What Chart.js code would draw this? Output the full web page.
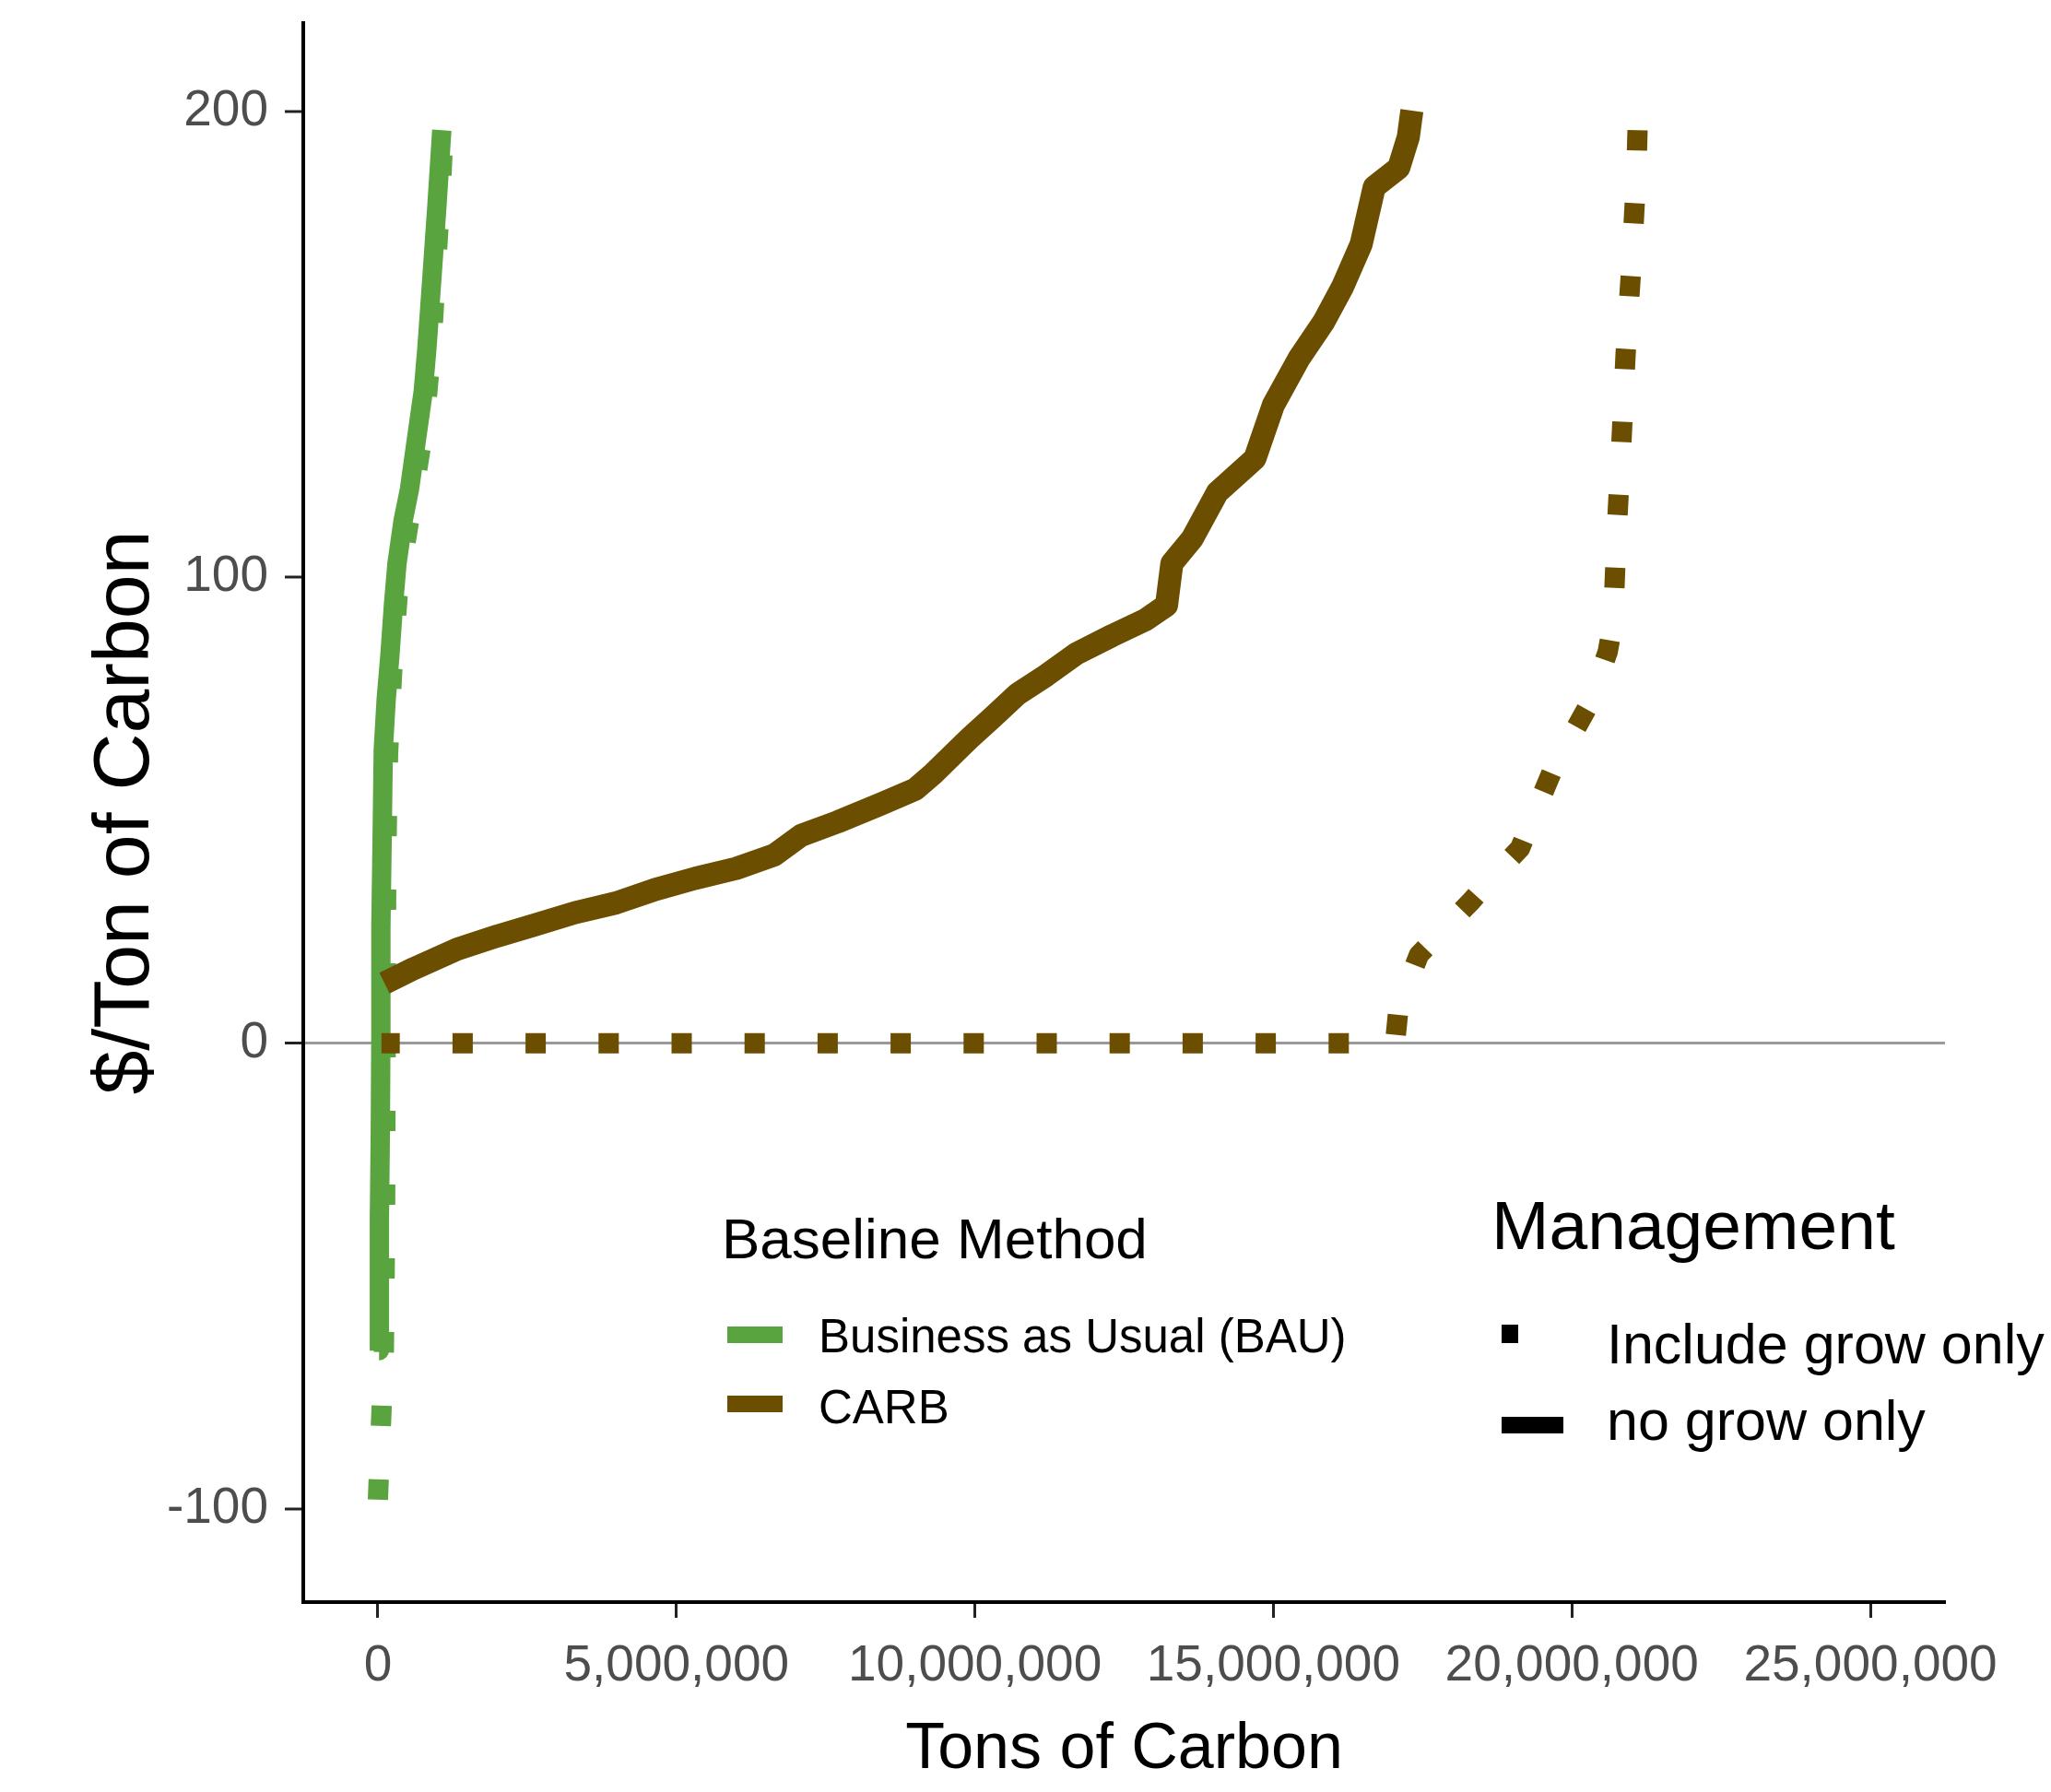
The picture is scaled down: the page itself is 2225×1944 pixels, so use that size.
<!DOCTYPE html>
<html>
<head>
<meta charset="utf-8">
<script src="https://cdn.jsdelivr.net/npm/chart.js@4"></script>
<style>
  html, body { margin: 0; padding: 0; background: #fff; }
  #cost-curve { display: block; }
</style>
</head>
<body>
<canvas id="cost-curve" width="2225" height="1944"></canvas>
<script>
// tick values
const xTicks = [0, 5000000, 10000000, 15000000, 20000000, 25000000];
const yTicks = [-100, 0, 100, 200];

// tons of carbon are in millions here, prices in $/ton
// BAU, no grow only (solid green)
const bauNoGrowTons  = [0.02, 0.02, 0.03, 0.04, 0.05, 0.05, 0.07, 0.09, 0.14, 0.20, 0.26, 0.32, 0.42, 0.53, 0.65, 0.76, 0.82, 0.87, 0.93, 0.99, 1.03, 1.07];
const bauNoGrowPrice = [-66, -50, -38, -20, 2, 25, 43, 63, 74, 83, 94, 103, 112, 119, 130, 140, 149, 158, 169, 180, 188, 196];

// BAU, include grow only (dotted green)
const bauGrowTons  = [0.00, 0.06, 0.10, 0.12, 0.13, 0.14, 0.17, 0.24, 0.33, 0.47, 0.62, 0.78, 0.90, 0.99, 1.06, 1.10];
const bauGrowPrice = [-98, -79, -66, -40, 0, 40, 62, 80, 96, 108, 120, 133, 150, 170, 185, 196];

// CARB, no grow only (solid brown)
const carbNoGrowTons  = [0.11, 0.6, 1.33, 2.0, 2.66, 3.3, 3.99, 4.65, 5.32, 6.0, 6.64, 7.09, 7.7, 8.42, 9.0, 9.3, 9.93, 10.3, 10.72, 11.2, 11.7, 12.3, 12.86, 13.21, 13.3, 13.64, 14.06, 14.69, 15.0, 15.43, 15.85, 16.16, 16.47, 16.69, 17.1, 17.26, 17.32];
const carbNoGrowPrice = [12.9, 16, 20.2, 23, 25.5, 28, 30.1, 33, 35.4, 37.5, 40.4, 44.6, 47.5, 51.3, 54.5, 57.8, 65.7, 70, 75, 79, 83.6, 87.5, 90.9, 94, 103, 108.3, 118.2, 125.5, 137, 147, 155, 162.4, 171.5, 183.8, 187.9, 194.5, 200.2];

// CARB, include grow only (dotted brown)
const carbGrowTons  = [0.06, 17.0, 17.05, 17.1, 17.44, 17.9, 18.3, 18.7, 19.13, 19.67, 20.3, 20.6, 20.69, 20.75, 20.83, 20.9, 21.0, 21.08, 21.1];
const carbGrowPrice = [0, 0, 1.6, 8, 19, 25, 30.3, 36, 41.8, 58.4, 73, 84, 90.3, 109.7, 129, 148, 167.5, 187, 196];

const baselineMethods = ['Business as Usual (BAU)', 'CARB'];
const managementTypes = ['Include grow only', 'no grow only'];

const FONT = "'Liberation Sans', Arial, Helvetica, sans-serif";
const GREEN = '#5aa440';
const BROWN = '#6b4e00';

function toPoints(tons, price) {
    return tons.map((t, i) => ({ x: t * 1000000, y: price[i] }));
}

function lineSet(label, points, color, width, dash) {
    return {
        label: label,
        data: points,
        borderColor: color,
        backgroundColor: color,
        borderWidth: width,
        borderDash: dash || [],
        borderCapStyle: 'butt',
        borderJoinStyle: 'round',
        pointRadius: 0,
        tension: 0,
        fill: false
    };
}

// two ggplot style legends, drawn on top of the canvas
const legendPlugin = {
    id: 'twoLegends',
    afterDraw(chart) {
        const ctx = chart.ctx;
        ctx.save();
        ctx.textAlign = 'left';
        ctx.textBaseline = 'alphabetic';

        ctx.fillStyle = '#000';
        ctx.font = '62px ' + FONT;
        ctx.fillText('Baseline Method', 783, 1365);

        ctx.font = '51px ' + FONT;
        const swatchY = [1448, 1523];
        const textY = [1467, 1544];
        [GREEN, BROWN].forEach((c, i) => {
            ctx.fillStyle = c;
            ctx.fillRect(789, swatchY[i] - 9, 60, 18);
            ctx.fillStyle = '#000';
            ctx.fillText(baselineMethods[i], 888, textY[i]);
        });

        ctx.font = '75px ' + FONT;
        ctx.fillText('Management', 1618, 1355);

        ctx.font = '61px ' + FONT;
        ctx.fillRect(1629, 1437, 18, 20);
        ctx.fillText(managementTypes[0], 1743, 1479);
        ctx.fillRect(1629, 1537, 67, 18);
        ctx.fillText(managementTypes[1], 1743, 1562);
        ctx.restore();
    }
};

new Chart(document.querySelector('#cost-curve').getContext('2d'), {
    type: 'line',
    data: {
        datasets: [
            // dotted CARB path walked from the top so a dot sits on the last point
            lineSet('CARB - Include grow only', toPoints(carbGrowTons, carbGrowPrice).reverse(), BROWN, 22, [22, 57.2]),
            lineSet('CARB - no grow only', toPoints(carbNoGrowTons, carbNoGrowPrice), BROWN, 25),
            lineSet('BAU - Include grow only', toPoints(bauGrowTons, bauGrowPrice), GREEN, 22, [22, 58]),
            lineSet('BAU - no grow only', toPoints(bauNoGrowTons, bauNoGrowPrice), GREEN, 21)
        ]
    },
    options: {
        responsive: false,
        animation: false,
        devicePixelRatio: 1,
        layout: { padding: { top: 25, right: 115, bottom: 0, left: 0 } },
        plugins: {
            legend: { display: false },
            tooltip: { enabled: false }
        },
        scales: {
            x: {
                type: 'linear',
                min: -1250000,
                max: 26250000,
                afterBuildTicks: axis => { axis.ticks = xTicks.map(v => ({ value: v })); },
                afterFit: axis => { axis.height = 206; axis.paddingLeft = 0; axis.paddingRight = 0; },
                border: { display: true, color: '#000', width: 4 },
                grid: {
                    drawOnChartArea: false,
                    drawTicks: true,
                    tickLength: 17,
                    tickWidth: 3,
                    tickColor: '#222'
                },
                ticks: {
                    autoSkip: false,
                    maxRotation: 0,
                    padding: 20,
                    color: '#4d4d4d',
                    font: { family: FONT, size: 55 },
                    callback: v => v.toLocaleString('en-US')
                },
                title: {
                    display: true,
                    text: 'Tons of Carbon',
                    color: '#000',
                    font: { family: FONT, size: 70 },
                    padding: { top: 0, bottom: 3 }
                }
            },
            y: {
                min: -120,
                max: 219,
                afterBuildTicks: axis => { axis.ticks = yTicks.map(v => ({ value: v })); },
                afterFit: axis => { axis.width = 329; axis.paddingTop = 0; axis.paddingBottom = 0; },
                border: { display: true, color: '#000', width: 4 },
                grid: {
                    drawOnChartArea: true,
                    color: c => (c.tick && c.tick.value === 0) ? '#9a9a9a' : 'rgba(0,0,0,0)',
                    lineWidth: c => (c.tick && c.tick.value === 0) ? 3 : 0,
                    drawTicks: true,
                    tickLength: 20,
                    tickWidth: 3,
                    tickColor: '#222'
                },
                ticks: {
                    padding: 18,
                    color: '#4d4d4d',
                    font: { family: FONT, size: 55 }
                },
                title: {
                    display: true,
                    text: '$/Ton of Carbon',
                    color: '#000',
                    font: { family: FONT, size: 86 },
                    padding: { top: 86, bottom: 0 }
                }
            }
        }
    },
    plugins: [legendPlugin]
});
</script>
</body>
</html>
